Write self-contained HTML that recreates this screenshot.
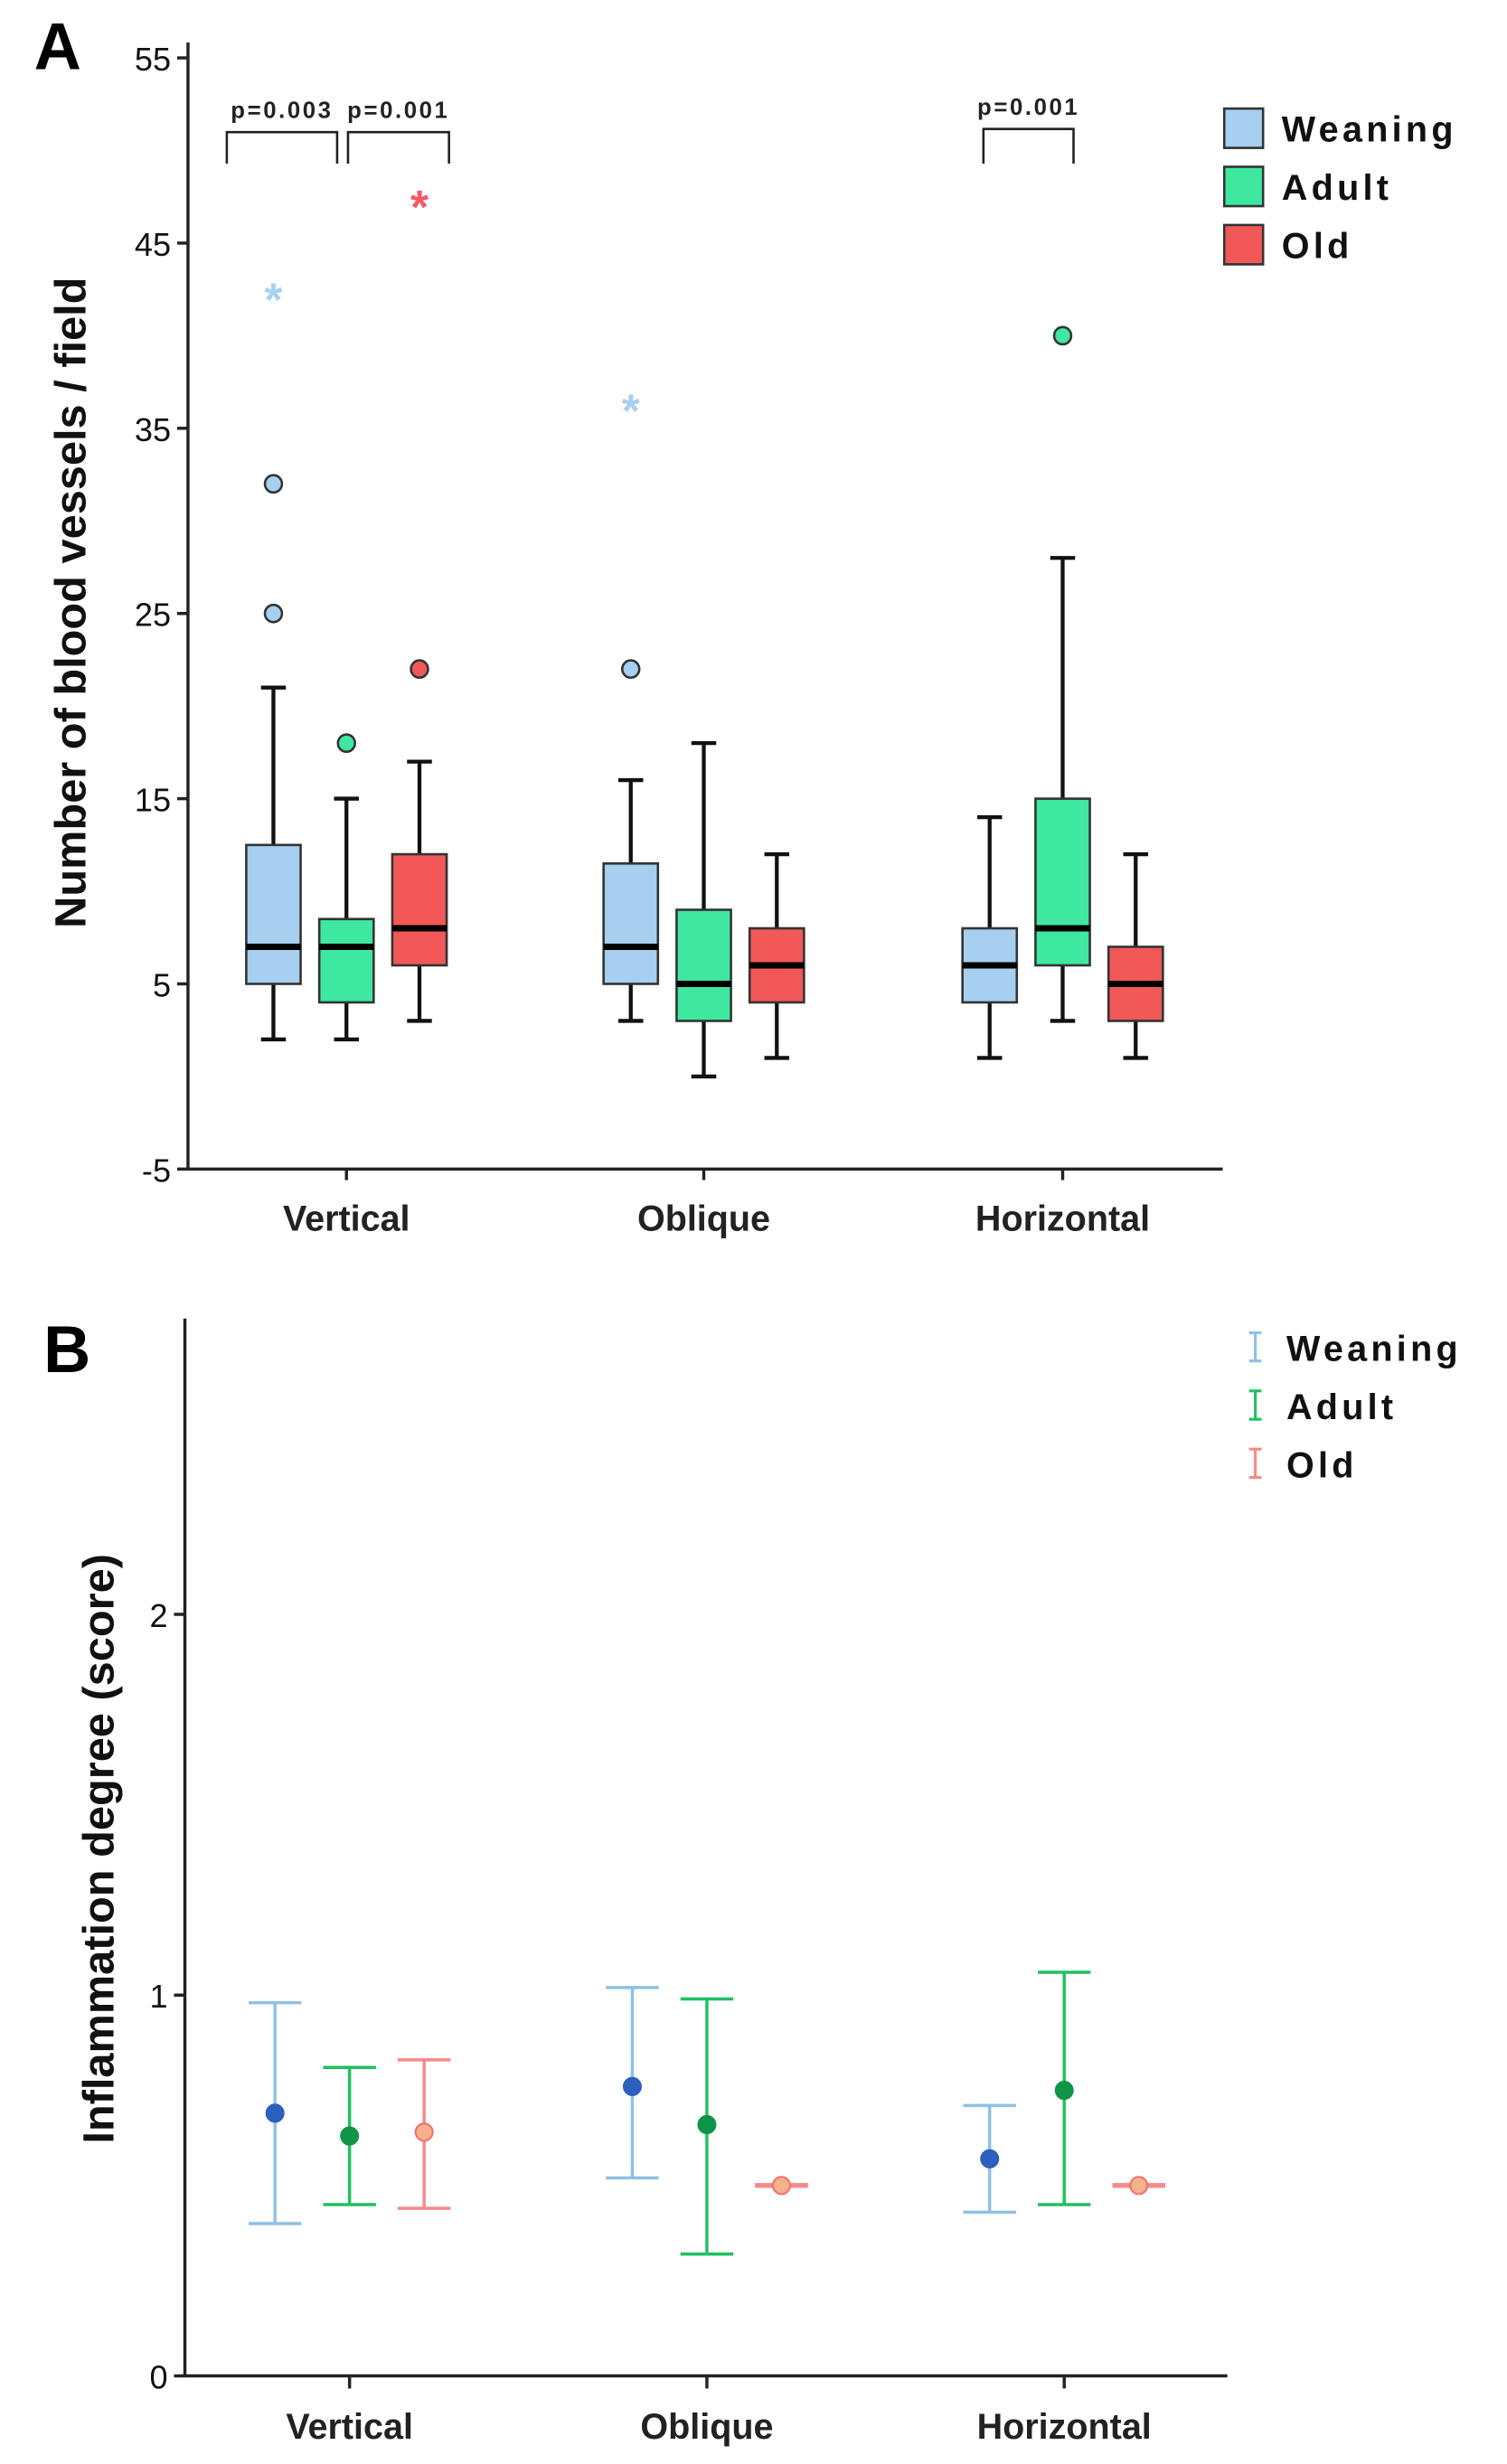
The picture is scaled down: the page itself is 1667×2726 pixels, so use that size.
<!DOCTYPE html>
<html><head><meta charset="utf-8"><style>
html,body{margin:0;padding:0;background:#fff;}
svg{display:block;font-family:"Liberation Sans",sans-serif;}
</style></head><body>
<svg id="chart" width="1667" height="2726" viewBox="0 0 970 1566" preserveAspectRatio="none" xmlns="http://www.w3.org/2000/svg">
<g id="pa"></g>
<g id="pb"></g>
</svg>
<script>
// ---------- Panel A data ----------
const categories = ["Vertical","Oblique","Horizontal"];
const groups = ["Weaning","Adult","Old"];
const yTicksA = [-5,5,15,25,35,45,55];
// [whiskerLow, q1, median, q3, whiskerHigh] per category per group
const boxWeaning = [[2,5,7,12.5,21],[3,5,7,11.5,16],[1,4,6,8,14]];
const boxAdult   = [[2,4,7,8.5,15],[0,3,5,9,18],[3,6,8,15,28]];
const boxOld     = [[3,6,8,12,17],[1,4,6,8,12],[1,3,5,7,12]];
const circWeaning = [[25,32],[22],[]];
const circAdult   = [[18],[],[40]];
const circOld     = [[22],[],[]];
const starWeaning = [[42],[36],[]];
const starAdult   = [[],[],[]];
const starOld     = [[47],[],[]];
const pLabels = ["p=0.003","p=0.001","p=0.001"];
// ---------- Panel B data ----------
const yTicksB = [0,1,2];
const meanWeaning = [0.69,0.76,0.57];
const loWeaning = [0.40,0.52,0.43];
const hiWeaning = [0.98,1.02,0.71];
const meanAdult = [0.63,0.66,0.75];
const loAdult = [0.45,0.32,0.45];
const hiAdult = [0.81,0.99,1.06];
const meanOld = [0.64,0.50,0.50];
const loOld = [0.44,0.50,0.50];
const hiOld = [0.83,0.50,0.50];

const NS="http://www.w3.org/2000/svg";
function mk(parent,tag,attrs,text){const e=document.createElementNS(NS,tag);for(const k in attrs)e.setAttribute(k,attrs[k]);if(text!==undefined)e.textContent=text;parent.appendChild(e);return e;}
const pa=document.getElementById('pa'), pb=document.getElementById('pb');

// ---- Panel A scales ----
const yA=v=>743-(v+5)*11.77;
const catX=[223,453,684];
const off=[-47,0,47];
const xA=(c,g)=>catX[c]+off[g];
const fills=["#a6cff0","#3ee8a0","#f25858"];
const starCols=["#a8d0f0","#3ee8a0","#f25a6a"];

let t;
t=mk(pa,'text',{x:22,y:44,'font-size':42,'font-weight':'bold'},'A');

let ax=mk(pa,'path',{d:'M121 27 V743 H787',stroke:'#222','stroke-width':2,fill:'none'});

yTicksA.forEach(v=>{
  mk(pa,'line',{x1:114,x2:121,y1:yA(v),y2:yA(v),stroke:'#222','stroke-width':2});
  const tl=mk(pa,'text',{x:110,y:yA(v)+8,'font-size':21,'text-anchor':'end',fill:'#111'},String(v));
  
});
categories.forEach((c,i)=>{
  mk(pa,'line',{x1:catX[i],x2:catX[i],y1:743,y2:750,stroke:'#222','stroke-width':2});
  const tl=mk(pa,'text',{x:catX[i],y:782,'font-size':23,'font-weight':'bold','text-anchor':'middle',fill:'#222'},c);
  
});
t=mk(pa,'text',{transform:'translate(55,383) rotate(-90)','font-size':28,'font-weight':'bold','text-anchor':'middle',fill:'#111'},'Number of blood vessels / field');


const boxes=[boxWeaning,boxAdult,boxOld], circs=[circWeaning,circAdult,circOld], stars=[starWeaning,starAdult,starOld];
for(let g=0;g<3;g++)for(let c=0;c<3;c++){
  const b=boxes[g][c],x=xA(c,g),w=35;
  const gr=mk(pa,'g',{});
  
  
  mk(gr,'line',{x1:x,x2:x,y1:yA(b[0]),y2:yA(b[4]),stroke:'#111','stroke-width':2.5});
  mk(gr,'line',{x1:x-8,x2:x+8,y1:yA(b[0]),y2:yA(b[0]),stroke:'#111','stroke-width':2.5});
  mk(gr,'line',{x1:x-8,x2:x+8,y1:yA(b[4]),y2:yA(b[4]),stroke:'#111','stroke-width':2.5});
  mk(gr,'rect',{x:x-w/2,y:yA(b[3]),width:w,height:yA(b[1])-yA(b[3]),fill:fills[g],stroke:'#333','stroke-width':1.5});
  mk(gr,'line',{x1:x-w/2,x2:x+w/2,y1:yA(b[2]),y2:yA(b[2]),stroke:'#000','stroke-width':4});
  circs[g][c].forEach(v=>{const o=mk(gr,'circle',{cx:x,cy:yA(v),r:5.5,fill:fills[g],stroke:'#333','stroke-width':1.5});
    });
  stars[g][c].forEach(v=>{const o=mk(gr,'text',{x:x,y:yA(v)+11,'font-size':30,'font-weight':'bold','text-anchor':'middle',fill:starCols[g]},'*');
    });
}
// brackets
const brk=[[146,217,84],[224,289,84],[633,691,82]];
brk.forEach((b,i)=>{
  const gr=mk(pa,'g',{});
  
  mk(gr,'path',{d:`M${b[0]} 104 V${b[2]} H${b[1]} V104`,stroke:'#222','stroke-width':1.5,fill:'none'});
  mk(gr,'text',{x:(b[0]+b[1])/2,y:b[2]-9,'font-size':15,'font-weight':'bold','text-anchor':'middle','letter-spacing':1.5,fill:'#222'},pLabels[i]);
});
// legend A
groups.forEach((g,i)=>{
  const y=69+i*37;
  const gr=mk(pa,'g',{});
  
  mk(gr,'rect',{x:788,y:y,width:25,height:25,fill:fills[i],stroke:'#333','stroke-width':1.5});
  mk(gr,'text',{x:825,y:y+21,'font-size':23,'font-weight':'bold','letter-spacing':2.5,fill:'#111'},g);
});

// ---- Panel B ----
const yB=v=>1510-v*242;
const catXB=[225,455,685];
const offB=[-48,0,48];
const barCols=["#8fc0e4","#20c060","#f58a8a"];
const dotCols=["#2c5fbe","#0f9548","#f7b08c"];
t=mk(pb,'text',{x:28,y:872,'font-size':42,'font-weight':'bold'},'B');

ax=mk(pb,'path',{d:'M119 838 V1510 H790',stroke:'#222','stroke-width':2,fill:'none'});

yTicksB.forEach(v=>{
  mk(pb,'line',{x1:112,x2:119,y1:yB(v),y2:yB(v),stroke:'#222','stroke-width':2});
  const tl=mk(pb,'text',{x:108,y:yB(v)+8,'font-size':21,'text-anchor':'end',fill:'#111'},String(v));
  
});
categories.forEach((c,i)=>{
  mk(pb,'line',{x1:catXB[i],x2:catXB[i],y1:1510,y2:1518,stroke:'#222','stroke-width':2});
  const tl=mk(pb,'text',{x:catXB[i],y:1550,'font-size':23,'font-weight':'bold','text-anchor':'middle',fill:'#222'},c);
  
});
t=mk(pb,'text',{transform:'translate(73,1175) rotate(-90)','font-size':28,'font-weight':'bold','text-anchor':'middle',fill:'#111'},'Inflammation degree (score)');

const means=[meanWeaning,meanAdult,meanOld],los=[loWeaning,loAdult,loOld],his=[hiWeaning,hiAdult,hiOld];
for(let g=0;g<3;g++)for(let c=0;c<3;c++){
  const x=catXB[c]+offB[g],m=means[g][c],lo=los[g][c],hi=his[g][c];
  const gr=mk(pb,'g',{});
  
  
  const sw=(hi-lo)<0.01?3:2;
  mk(gr,'line',{x1:x,x2:x,y1:yB(lo),y2:yB(hi),stroke:barCols[g],'stroke-width':2});
  mk(gr,'line',{x1:x-17,x2:x+17,y1:yB(lo),y2:yB(lo),stroke:barCols[g],'stroke-width':sw});
  mk(gr,'line',{x1:x-17,x2:x+17,y1:yB(hi),y2:yB(hi),stroke:barCols[g],'stroke-width':sw});
  mk(gr,'circle',{cx:x,cy:yB(m),r:5.5,fill:dotCols[g],stroke:g==2?'#f07070':dotCols[g],'stroke-width':1.2});
}
groups.forEach((g,i)=>{
  const y=856+i*37;
  const gr=mk(pb,'g',{});
  
  mk(gr,'path',{d:`M804 ${y-9} H812 M808 ${y-9} V${y+9} M804 ${y+9} H812`,stroke:barCols[i],'stroke-width':1.8,fill:'none'});
  mk(gr,'text',{x:828,y:y+9,'font-size':23,'font-weight':'bold','letter-spacing':2.5,fill:'#111'},g);
});
</script>
</body></html>
